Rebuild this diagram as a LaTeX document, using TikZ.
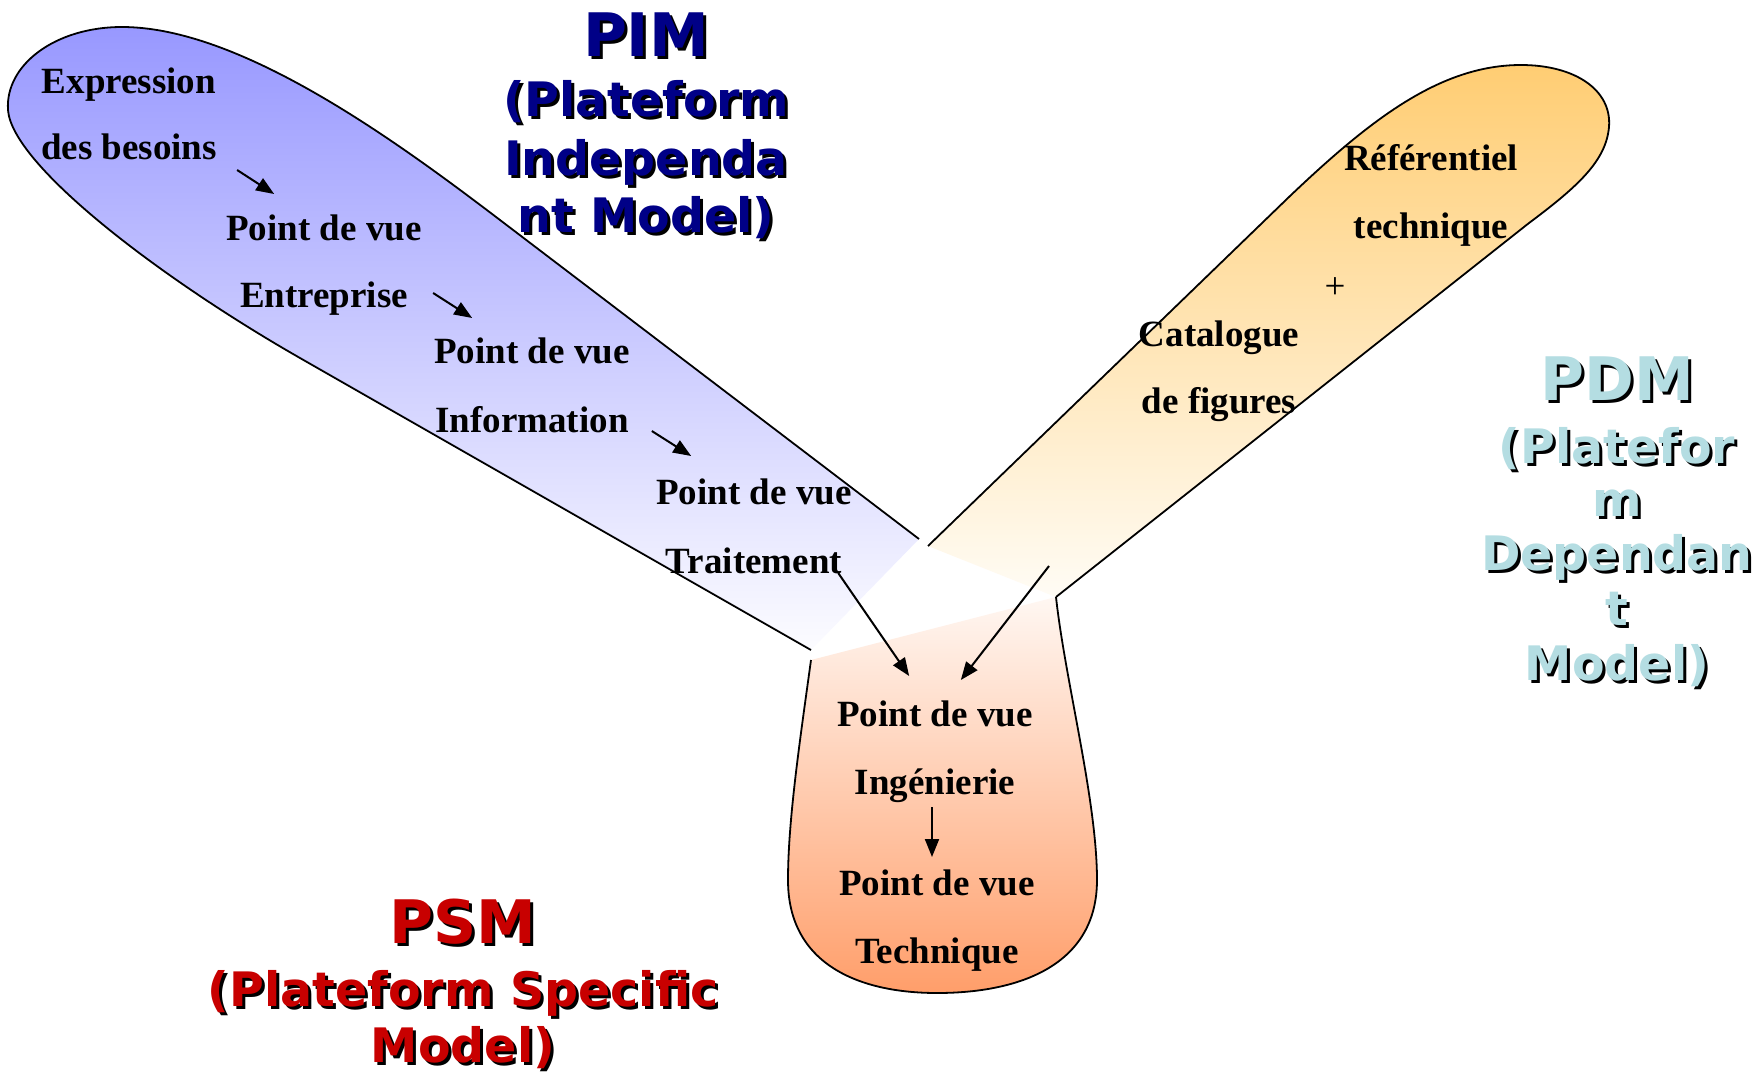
\documentclass[tikz,border=0pt]{standalone}
\usepackage{fontspec}
\setmainfont{Liberation Serif}
\newfontfamily\titlefont{DejaVu Sans}
\usetikzlibrary{arrows.meta}

\definecolor{pimtop}{RGB}{152,152,255}
\definecolor{pimbot}{RGB}{252,252,255}
\definecolor{pdmtop}{RGB}{255,205,115}
\definecolor{pdmbot}{RGB}{255,252,245}
\definecolor{psmtop}{RGB}{255,247,242}
\definecolor{psmbot}{RGB}{255,158,106}
\definecolor{pimink}{RGB}{0,0,135}
\definecolor{pdmink}{RGB}{180,221,226}
\definecolor{psmink}{RGB}{200,0,0}

% one line of a title, with its black drop shadow
\newcommand\titleline[6]{%
  \node[#1,text=black] (#2s) at (#3+3,#4+3) {#6};
  \node[#1,text=#5] (#2) at (#3,#4) {#6};}

\begin{document}
\begin{tikzpicture}[x=1pt,y=-1pt,
  lobe/.style={line width=1.8pt,line join=round},
  body/.style={font=\fontsize{37}{44}\selectfont\bfseries,inner sep=0pt,anchor=base},
  plain/.style={font=\fontsize{37}{44}\selectfont,inner sep=0pt,anchor=base},
  flow/.style={line width=2pt,-{Triangle[length=18pt,width=14pt]}},
  bigtitle/.style={font=\titlefont\bfseries\fontsize{60}{60}\selectfont,inner sep=0pt,anchor=base},
  subtitle/.style={font=\titlefont\bfseries\fontsize{47.5}{56}\selectfont,inner sep=0pt,anchor=base},
]
\useasboundingbox[fill=white] (0,0) rectangle (1762,1074);

% ---- shaded lobes (open towards the centre) ----
\shade[top color=pimtop,bottom color=pimbot]
  (919,539) -- (500,220) .. controls (395,140) and (240,27) .. (122,27)
  .. controls (55,27) and (5,65) .. (8,110)
  .. controls (12,165) and (160,278) .. (300,358) -- (811,650) -- cycle;
\shade[top color=pdmtop,bottom color=pdmbot]
  (928,546) -- (1290,196) .. controls (1370,120) and (1440,65) .. (1521,65)
  .. controls (1575,65) and (1612,90) .. (1609,127)
  .. controls (1606,160) and (1580,185) .. (1529,223) -- (1056,597) -- cycle;
\shade[top color=psmtop,bottom color=psmbot]
  (811,660) .. controls (800,740) and (788,820) .. (788,880)
  .. controls (788,965) and (860,993) .. (937,993)
  .. controls (1020,993) and (1097,965) .. (1097,880)
  .. controls (1097,800) and (1065,680) .. (1056,597) -- cycle;

% ---- outlines ----
\draw[lobe]
  (919,539) -- (500,220) .. controls (395,140) and (240,27) .. (122,27)
  .. controls (55,27) and (5,65) .. (8,110)
  .. controls (12,165) and (160,278) .. (300,358) -- (811,650);
\draw[lobe]
  (928,546) -- (1290,196) .. controls (1370,120) and (1440,65) .. (1521,65)
  .. controls (1575,65) and (1612,90) .. (1609,127)
  .. controls (1606,160) and (1580,185) .. (1529,223) -- (1056,597);
\draw[lobe]
  (811,660) .. controls (800,740) and (788,820) .. (788,880)
  .. controls (788,965) and (860,993) .. (937,993)
  .. controls (1020,993) and (1097,965) .. (1097,880)
  .. controls (1097,800) and (1065,680) .. (1056,597);

% ---- viewpoints ----
\node[body] (exp1) at (129,93)  {Expression};
\node[body] (exp2) at (129,159) {des besoins};
\node[body] (ent1) at (324,240) {Point de vue};
\node[body] (ent2) at (324,307) {Entreprise};
\node[body] (inf1) at (532,363) {Point de vue};
\node[body] (inf2) at (532,432) {Information};
\node[body] (trt1) at (754,504) {Point de vue};
\node[body] (trt2) at (754,573) {Traitement};
\node[body] (ing1) at (935,726) {Point de vue};
\node[body] (ing2) at (935,794) {Ingénierie};
\node[body] (tec1) at (937,895) {Point de vue};
\node[body] (tec2) at (937,963) {Technique};
\node[body] (ref1) at (1431,170) {Référentiel};
\node[body] (ref2) at (1431,238) {technique};
\node[plain] (plus) at (1335,298) {+};
\node[body] (cat1) at (1219,346) {Catalogue};
\node[body] (cat2) at (1219,413) {de figures};

% ---- flow arrows ----
\coordinate (pdmout) at (1049,566);
\draw[flow] ([shift={(20,11)}]exp2.base east) -- ([shift={(48,-46)}]ent1.base west);
\draw[flow] ([shift={(25,-14)}]ent2.base east) -- ([shift={(38,-45)}]inf1.base west);
\draw[flow] ([shift={(23,-1)}]inf2.base east) -- ([shift={(35,-48)}]trt1.base west);
\draw[flow] ([shift={(-4,0)}]trt2.base east) -- ([shift={(72,-50)}]ing1.base west);
\draw[flow] (pdmout) -- ([shift={(-72,-46)}]ing1.base east);
\draw[flow] ([shift={(-3,13)}]ing2.base) -- ([shift={(-3,-38)}]tec1.base -| ing2.base);

% ---- model titles ----
\titleline{bigtitle}{pim}{646}{56}{pimink}{PIM}
\titleline{subtitle}{pimb}{646}{116}{pimink}{(Plateform}
\titleline{subtitle}{pimc}{646}{175}{pimink}{Independa}
\titleline{subtitle}{pimd}{646}{232}{pimink}{nt Model)}

\titleline{bigtitle}{pdm}{1617}{400}{pdmink}{PDM}
\titleline{subtitle}{pdmb}{1617}{463}{pdmink}{(Platefor}
\titleline{subtitle}{pdmc}{1617}{516}{pdmink}{m}
\titleline{subtitle}{pdmd}{1617}{570}{pdmink}{Dependan}
\titleline{subtitle}{pdme}{1617}{625}{pdmink}{t}
\titleline{subtitle}{pdmf}{1617}{680}{pdmink}{Model)}

\titleline{bigtitle}{psm}{463}{943}{psmink}{PSM}
\titleline{subtitle}{psmb}{463}{1006}{psmink}{(Plateform Specific}
\titleline{subtitle}{psmc}{463}{1062}{psmink}{Model)}
\end{tikzpicture}
\end{document}
